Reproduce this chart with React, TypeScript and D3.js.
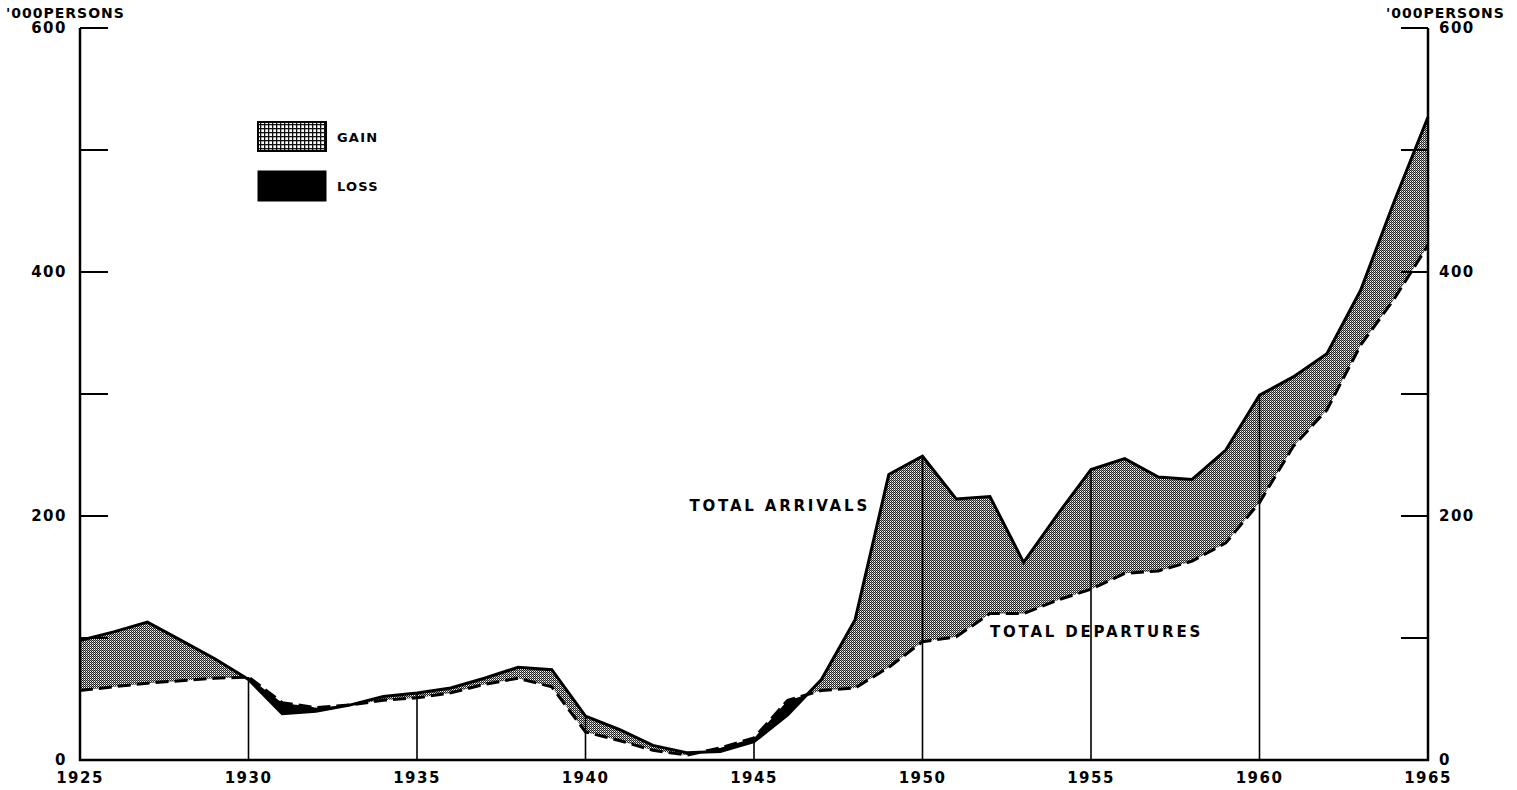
import React from "react";
import * as d3 from "d3";

const years = d3.range(1925, 1966);
const arrivals = [98, 105, 113, 98, 83, 66, 38, 40, 45, 52, 55, 59, 67, 76, 74, 36, 25, 12, 6, 7, 15, 37, 66, 115, 234, 249, 214, 216, 162, 201, 238, 247, 232, 230, 254, 299, 314, 333, 385, 458, 527];
const departures = [57, 60, 63, 65, 67, 68, 47, 43, 45, 49, 51, 55, 62, 67, 60, 23, 16, 8, 4, 10, 18, 49, 57, 59, 76, 97, 101, 120, 120, 131, 140, 153, 155, 163, 178, 211, 257, 287, 340, 378, 422];
const xTickYears = [1925, 1930, 1935, 1940, 1945, 1950, 1955, 1960, 1965];
const dropYears = [1930, 1935, 1940, 1945, 1950, 1955, 1960];
const yTicks = [0, 100, 200, 300, 400, 500, 600];
const yLabels = [0, 200, 400, 600];

const W = 1517, H = 790;
const FONT = "'DejaVu Sans', sans-serif";

export default function App() {
  const x = d3.scaleLinear().domain([1925, 1965]).range([80, 1428]);
  const y = d3.scaleLinear().domain([0, 600]).range([760, 28]);
  const pts = years.map((yr, i) => ({ yr, a: arrivals[i], d: departures[i] }));

  const between = d3.area<any>().x(p => x(p.yr)).y0(p => y(p.d)).y1(p => y(p.a))(pts) || "";
  const aboveDep = d3.area<any>().x(p => x(p.yr)).y0(p => y(p.d)).y1(() => 0)(pts) || "";
  const belowDep = d3.area<any>().x(p => x(p.yr)).y0(p => y(p.d)).y1(() => H)(pts) || "";
  const arrLine = d3.line<any>().x(p => x(p.yr)).y(p => y(p.a))(pts) || "";
  const depLine = d3.line<any>().x(p => x(p.yr)).y(p => y(p.d))(pts) || "";

  return (
    <svg width={W} height={H} style={{ position: "absolute", left: 0, top: 0, background: "#fff" }}>
      <defs>
        <pattern id="dots" width="2" height="2" patternUnits="userSpaceOnUse">
          <rect width="2" height="2" fill="#fff" />
          <rect x="0" y="0" width="1" height="1" fill="#222" />
          <rect x="1" y="1" width="1" height="1" fill="#222" />
          <rect x="1" y="0" width="1" height="1" fill="#999" />
        </pattern>
        <pattern id="grid" width="4" height="4" patternUnits="userSpaceOnUse">
          <rect width="4" height="4" fill="#fff" />
          <rect x="0" y="0" width="4" height="1.3" fill="#111" />
          <rect x="0" y="0" width="1.3" height="4" fill="#111" />
        </pattern>
        <clipPath id="clipAbove"><path d={aboveDep} /></clipPath>
        <clipPath id="clipBelow"><path d={belowDep} /></clipPath>
      </defs>

      {/* gain / loss fills */}
      <path d={between} fill="url(#dots)" clipPath="url(#clipAbove)" fillRule="evenodd" />
      <path d={between} fill="#000" clipPath="url(#clipBelow)" fillRule="evenodd" />

      {/* drop lines */}
      {dropYears.map(yr => {
        const i = years.indexOf(yr);
        return <line key={yr} x1={x(yr)} x2={x(yr)} y1={y(0)} y2={y(Math.max(arrivals[i], departures[i]))} stroke="#000" strokeWidth={1.6} />;
      })}

      {/* lines */}
      <path d={depLine} fill="none" stroke="#000" strokeWidth={3} strokeDasharray="13 6" />
      <path d={arrLine} fill="none" stroke="#000" strokeWidth={3} strokeLinejoin="miter" />

      {/* axes */}
      <line x1={x(1925)} x2={x(1925)} y1={y(600)} y2={y(0) + 1} stroke="#000" strokeWidth={2.5} />
      <line x1={x(1965)} x2={x(1965)} y1={y(600)} y2={y(0) + 1} stroke="#000" strokeWidth={2.5} />
      <line x1={x(1925) - 1} x2={x(1965) + 1} y1={y(0)} y2={y(0)} stroke="#000" strokeWidth={2.5} />
      {yTicks.filter(t => t > 0).map(t => (
        <g key={t}>
          <line x1={x(1925)} x2={x(1925) + 28} y1={y(t)} y2={y(t)} stroke="#000" strokeWidth={2} />
          <line x1={x(1965) - 27} x2={x(1965)} y1={y(t)} y2={y(t)} stroke="#000" strokeWidth={2} />
        </g>
      ))}
      {yLabels.map(t => (
        <g key={t} fontFamily={FONT} fontWeight="bold" fontSize={15} letterSpacing={1.5}>
          <text x={x(1925) - 13} y={y(t)} dy="0.35em" textAnchor="end">{t}</text>
          <text x={x(1965) + 11} y={y(t)} dy="0.35em" textAnchor="start">{t}</text>
        </g>
      ))}
      {xTickYears.map(yr => (
        <text key={yr} x={x(yr)} y={783} textAnchor="middle" fontFamily={FONT} fontWeight="bold" fontSize={15} letterSpacing={1.5}>{yr}</text>
      ))}

      {/* unit headers */}
      <text x={6} y={18} fontFamily={FONT} fontWeight="bold" fontSize={14} letterSpacing={1}>'000PERSONS</text>
      <text x={1386} y={18} fontFamily={FONT} fontWeight="bold" fontSize={14} letterSpacing={1}>'000PERSONS</text>

      {/* legend */}
      <rect x={258} y={122} width={68} height={29} fill="url(#grid)" stroke="#000" strokeWidth={2} />
      <text x={337} y={137} dy="0.35em" fontFamily={FONT} fontWeight="bold" fontSize={13} letterSpacing={1.2}>GAIN</text>
      <rect x={258} y={171} width={68} height={30} fill="#000" stroke="#000" strokeWidth={1} />
      <text x={337} y={186} dy="0.35em" fontFamily={FONT} fontWeight="bold" fontSize={13} letterSpacing={1.2}>LOSS</text>

      {/* annotations */}
      <text x={870} y={506} dy="0.35em" textAnchor="end" fontFamily={FONT} fontWeight="bold" fontSize={15} letterSpacing={2.8}>TOTAL ARRIVALS</text>
      <text x={990} y={632} dy="0.35em" textAnchor="start" fontFamily={FONT} fontWeight="bold" fontSize={15} letterSpacing={2.8}>TOTAL DEPARTURES</text>
    </svg>
  );
}
